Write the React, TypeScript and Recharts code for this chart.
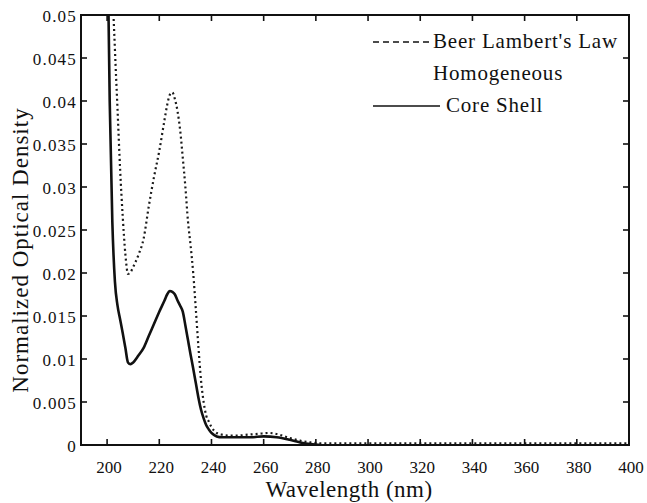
import { ComposedChart, Line, Scatter, XAxis, YAxis, Label, ReferenceArea } from 'recharts';

// wavelength (nm) and normalized optical density
const dottedWavelengths = [
  200, 202, 203, 204, 205, 206, 207, 208, 209, 210, 212, 214, 216, 218, 220, 222, 223, 224, 225, 226,
  227, 228, 229, 230, 231, 232, 233, 234, 235, 236, 237, 238, 239, 240, 242, 244, 247, 250, 254, 258,
  262, 266, 270, 274, 278, 282, 290, 300, 320, 340, 360, 380, 400,
];
const dottedValues = [
  0.085, 0.054, 0.046, 0.039, 0.032, 0.0265, 0.0222, 0.0199, 0.0201, 0.0207, 0.0221, 0.024, 0.0278,
  0.0312, 0.0342, 0.0378, 0.0395, 0.0407, 0.041, 0.0402, 0.0388, 0.0366, 0.0334, 0.03, 0.026, 0.0232,
  0.02, 0.0158, 0.0114, 0.0075, 0.005, 0.0034, 0.0027, 0.0021, 0.0014, 0.0012, 0.0011, 0.0011,
  0.0012, 0.0013, 0.0014, 0.0012, 0.0008, 0.0005, 0.0003, 0.0002, 0.0002, 0.0002, 0.0002, 0.0002,
  0.0002, 0.0002, 0.0002,
];

const solidWavelengths = [
  200, 201, 202, 203, 204, 205, 206, 207, 208, 209, 210, 212, 214, 216, 218, 220, 222, 223, 224, 225,
  226, 227, 228, 229, 230, 231, 232, 233, 234, 235, 236, 237, 238, 239, 240, 242, 244, 247, 250, 255,
  260, 265, 270, 274, 278, 282,
];
const solidValues = [
  0.062, 0.04, 0.026, 0.019, 0.0162, 0.0146, 0.013, 0.0113, 0.0096, 0.0094, 0.0096, 0.0104, 0.0113,
  0.0127, 0.0141, 0.0155, 0.0168, 0.0175, 0.0179, 0.0178, 0.0175, 0.0168, 0.0162, 0.0155, 0.0139,
  0.0122, 0.0105, 0.0089, 0.0072, 0.0055, 0.0041, 0.0031, 0.0023, 0.0018, 0.0014, 0.001, 0.0009,
  0.0009, 0.0009, 0.0009, 0.001, 0.0009, 0.0006, 0.0003, 0.0001, 0,
];

const xTicks = [200, 220, 240, 260, 280, 300, 320, 340, 360, 380, 400];
const yTicks = [0, 0.005, 0.01, 0.015, 0.02, 0.025, 0.03, 0.035, 0.04, 0.045, 0.05];
const legendLabels = ["Beer Lambert's Law", 'Homogeneous', 'Core Shell'];

const X_MIN = 190;
const X_MAX = 400;
const Y_MAX = 0.05;

// one table keyed by wavelength, gaps where a curve has no reading
const allWavelengths = Array.from(new Set([...dottedWavelengths, ...solidWavelengths])).sort((a, b) => a - b);
const chartData = allWavelengths.map((wl) => {
  const di = dottedWavelengths.indexOf(wl);
  const si = solidWavelengths.indexOf(wl);
  return {
    wl,
    dotted: di >= 0 ? dottedValues[di] : undefined,
    solid: si >= 0 ? solidValues[si] : undefined,
  };
});

// tick positions on the four sides of the box
const bottomTickPts = xTicks.map((t) => ({ wl: t, od: 0 }));
const topTickPts = xTicks.map((t) => ({ wl: t, od: Y_MAX }));
const leftTickPts = yTicks.map((t) => ({ wl: X_MIN, od: t }));
const rightTickPts = yTicks.map((t) => ({ wl: X_MAX, od: t }));

const FONT = "'Liberation Serif', 'Times New Roman', serif";
const INK = '#111';
const TICK_PX = 6;

const tickShape = (dx: number, dy: number) => (props: any) => {
  const { cx, cy } = props;
  if (cx == null || cy == null) return <g />;
  return <line x1={cx} y1={cy} x2={cx + dx * TICK_PX} y2={cy + dy * TICK_PX} stroke={INK} strokeWidth={1.6} />;
};

const renderBottomTick = (props: any) => {
  const { x, y, payload } = props;
  return (
    <text x={x + 2} y={y} dy="0.71em" textAnchor="middle" style={{ fontFamily: FONT, fontSize: 17, fill: INK }}>
      {payload.value}
    </text>
  );
};

const renderLeftTick = (props: any) => {
  const { x, y, payload } = props;
  return (
    <text x={x} y={y} dy="0.4em" textAnchor="end" style={{ fontFamily: FONT, fontSize: 17, letterSpacing: 1.2, fill: INK }}>
      {String(payload.value)}
    </text>
  );
};

function LegendBox() {
  const txt = { fontFamily: FONT, fontSize: 21, letterSpacing: 0.8, fill: INK };
  return (
    <svg width={647} height={130} style={{ position: 'absolute', left: 0, top: 0, pointerEvents: 'none' }}>
      <line x1={373} y1={42} x2={432} y2={42} stroke={INK} strokeWidth={1.3} strokeDasharray="6 4" />
      <text x={433} y={48} style={txt}>{legendLabels[0]}</text>
      <text x={433} y={80} style={txt}>{legendLabels[1]}</text>
      <line x1={373} y1={106} x2={440} y2={106} stroke={INK} strokeWidth={1.3} />
      <text x={446} y={112} style={txt}>{legendLabels[2]}</text>
    </svg>
  );
}

export default function App() {
  return (
    <div style={{ position: 'absolute', left: 0, top: 0, width: 647, height: 503, background: '#fff' }}>
      <ComposedChart width={647} height={503} data={chartData} margin={{ top: 15, right: 18, bottom: 0, left: 0 }}>
        <XAxis
          dataKey="wl"
          type="number"
          domain={[X_MIN, X_MAX]}
          ticks={xTicks}
          height={58}
          tickSize={0}
          tickMargin={16}
          axisLine={{ stroke: INK, strokeWidth: 2 }}
          tickLine={false}
          tick={renderBottomTick}
        >
          <Label
            value="Wavelength (nm)"
            position="insideBottom"
            offset={6}
            dx={-6}
            style={{ fontFamily: FONT, fontSize: 23, fill: INK, letterSpacing: 0.5 }}
          />
        </XAxis>
        <YAxis
          dataKey="od"
          domain={[0, Y_MAX]}
          ticks={yTicks}
          allowDataOverflow
          width={81}
          tickSize={0}
          tickMargin={4}
          axisLine={{ stroke: INK, strokeWidth: 2 }}
          tickLine={false}
          tick={renderLeftTick}
        >
          <Label
            value="Normalized Optical Density"
            angle={-90}
            position="insideLeft"
            offset={20}
            dy={20}
            style={{ fontFamily: FONT, fontSize: 23, fill: INK, letterSpacing: 1, textAnchor: 'middle' }}
          />
        </YAxis>
        <ReferenceArea
          x1={X_MIN}
          x2={X_MAX}
          y1={0}
          y2={Y_MAX}
          fill="none"
          fillOpacity={0}
          stroke={INK}
          strokeWidth={2}
          strokeOpacity={1}
        />
        <Scatter data={bottomTickPts} dataKey="od" shape={tickShape(0, -1)} isAnimationActive={false} legendType="none" />
        <Scatter data={topTickPts} dataKey="od" shape={tickShape(0, 1)} isAnimationActive={false} legendType="none" />
        <Scatter data={leftTickPts} dataKey="od" shape={tickShape(1, 0)} isAnimationActive={false} legendType="none" />
        <Scatter data={rightTickPts} dataKey="od" shape={tickShape(-1, 0)} isAnimationActive={false} legendType="none" />
        <Line
          dataKey="dotted"
          type="monotone"
          connectNulls
          stroke="#1a1a1a"
          strokeWidth={2.2}
          strokeDasharray="2 3"
          dot={false}
          isAnimationActive={false}
        />
        <Line
          dataKey="solid"
          type="monotone"
          connectNulls
          stroke={INK}
          strokeWidth={2.6}
          dot={false}
          isAnimationActive={false}
        />
      </ComposedChart>
      <LegendBox />
    </div>
  );
}
